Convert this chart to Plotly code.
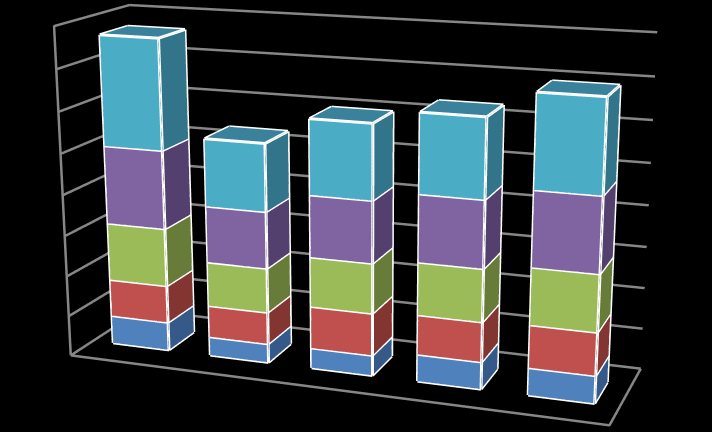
import numpy as np
import plotly.graph_objects as go

category_pos = [0, 1, 2, 3, 4]
series_1 = [0.71, 0.47, 0.50, 0.66, 0.66]
series_2 = [0.93, 0.79, 1.03, 0.96, 1.02]
series_3 = [1.43, 1.09, 1.21, 1.26, 1.35]
series_4 = [1.92, 1.38, 1.49, 1.60, 1.77]
series_5 = [2.67, 1.63, 1.79, 1.87, 2.17]
z_ticks = [0, 1, 2, 3, 4, 5, 6, 7, 8]
front = ["#4F81BD", "#C0504D", "#9BBB59", "#8064A2", "#4BACC6"]
side = ["#355A8A", "#833532", "#667C38", "#54406E", "#32758A"]
top = ["#3F6797", "#9A403D", "#7C9647", "#665082", "#3A829B"]
XR, YR, ZR = (0, 5), (0, 1), (0, 8)
bar_x0, bar_x1 = 0.205, 0.785
bar_y0, bar_y1 = 0.31, 0.69
GRID = "#868686"

fig = go.Figure()
# grid on the back wall and the left wall
gx, gy, gz = [], [], []
for t in z_ticks:
    gx += [XR[0], XR[0], XR[1], None]
    gy += [YR[0], YR[1], YR[1], None]
    gz += [t, t, t, None]
fig.add_trace(go.Scatter3d(x=gx, y=gy, z=gz, mode="lines", line=dict(color=GRID, width=5), hoverinfo="skip"))
fig.add_trace(go.Scatter3d(x=[XR[0],XR[1],XR[1],None,XR[0],XR[0],None,XR[0],XR[0],XR[0]],
                           y=[YR[0],YR[0],YR[1],None,YR[0],YR[1],None,YR[0],YR[0],YR[1]],
                           z=[ZR[0],ZR[0],ZR[0],None,ZR[0],ZR[0],None,ZR[0],ZR[1],ZR[1]],
                           mode="lines", line=dict(color=GRID, width=5), hoverinfo="skip"))

values = [series_1, series_2, series_3, series_4, series_5]
base = np.zeros(5)
for s, vals in enumerate(values):
    xs, ys, zs, I, J, K, fc = [], [], [], [], [], [], []
    ex, ey, ez = [], [], []
    for i, c in enumerate(category_pos):
        x0, x1 = c + bar_x0, c + bar_x1
        y0, y1 = bar_y0, bar_y1
        z0, z1 = base[i], base[i] + vals[i]
        n = len(xs)
        xs += [x0, x1, x1, x0, x0, x1, x1, x0]
        ys += [y0, y0, y1, y1, y0, y0, y1, y1]
        zs += [z0, z0, z0, z0, z1, z1, z1, z1]
        faces = [((0,1,5),front[s]),((0,5,4),front[s]),((1,2,6),side[s]),((1,6,5),side[s]),
                 ((4,5,6),top[s]),((4,6,7),top[s]),((3,2,6),side[s]),((3,6,7),side[s]),
                 ((0,3,7),side[s]),((0,7,4),side[s]),((0,1,2),side[s]),((0,2,3),side[s])]
        for (a, b, d), col in faces:
            I.append(n+a); J.append(n+b); K.append(n+d); fc.append(col)
        for a, b in [(0,1),(1,2),(2,3),(3,0),(4,5),(5,6),(6,7),(7,4),(0,4),(1,5),(2,6),(3,7)]:
            ex += [xs[n+a], xs[n+b], None]
            ey += [ys[n+a], ys[n+b], None]
            ez += [zs[n+a], zs[n+b], None]
    fig.add_trace(go.Mesh3d(x=xs, y=ys, z=zs, i=I, j=J, k=K, facecolor=fc, flatshading=True,
        lighting=dict(ambient=1, diffuse=0, specular=0, fresnel=0, roughness=1), hoverinfo="skip"))
    fig.add_trace(go.Scatter3d(x=ex, y=ey, z=ez, mode="lines", line=dict(color="white", width=6), hoverinfo="skip"))
    base = base + np.array(vals)

ax_off = dict(showgrid=False, showticklabels=False, showline=False, zeroline=False, showbackground=False,
              showspikes=False, ticks="", title="")
fig.update_layout(width=722, height=1366, margin=dict(l=0, r=0, t=0, b=0), paper_bgcolor="black", showlegend=False,
    scene=dict(domain=dict(x=[0, 1], y=[0, 1]), bgcolor="black",
        xaxis=dict(ax_off, range=XR), yaxis=dict(ax_off, range=YR), zaxis=dict(ax_off, range=ZR),
        aspectmode="manual", aspectratio=dict(x=1.6, y=0.4521, z=0.9719),
        camera=dict(eye=dict(x=1.5405, y=-4.2461, z=1.1730), center=dict(x=0.0260, y=0, z=-0.0997),
                    up=dict(x=-0.0023, y=0, z=1), projection=dict(type="perspective"))))
post = ("document.documentElement.style.overflow='hidden';document.body.style.margin='0';"
        "document.body.style.overflow='hidden';document.body.style.background='black';"
        "var g=document.getElementById('{plot_id}');g.style.position='absolute';"
        "g.style.left='0.3px';g.style.top='-448px';")
fig.write_html("out.html", post_script=post)
